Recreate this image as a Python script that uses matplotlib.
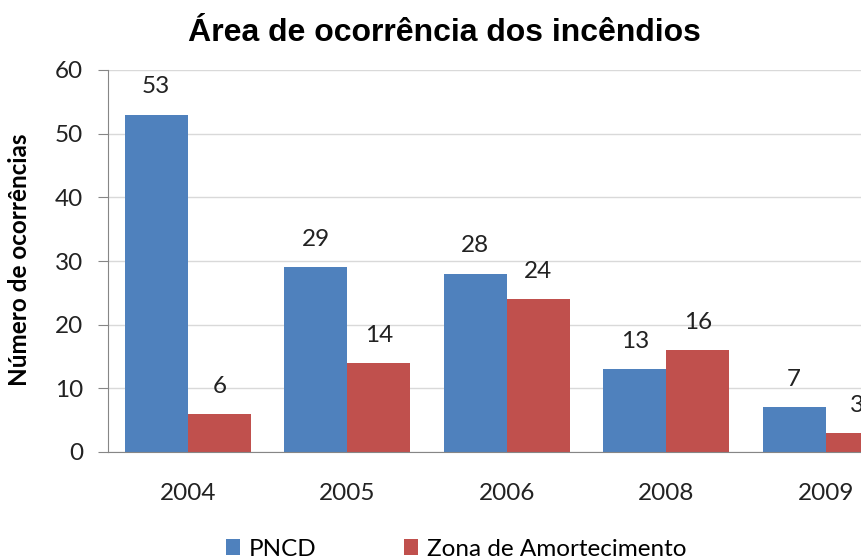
import matplotlib
matplotlib.use("Agg")
import matplotlib.pyplot as plt
import numpy as np

years = ["2004", "2005", "2006", "2008", "2009"]
pncd = [53, 29, 28, 13, 7]
zona = [6, 14, 24, 16, 3]
series_names = ["PNCD", "Zona de Amortecimento"]
yticks = [0, 10, 20, 30, 40, 50, 60]

blue = "#4F81BD"
red = "#C0504D"
font = "Lato"
fs = 17.5

fig = plt.figure(figsize=(8.61, 5.6), dpi=100)
ax = fig.add_axes([108/861, 1-452/560, 797.5/861, (452-70)/560])

x = np.arange(len(years))
w = 0.395
b1 = ax.bar(x - w/2, pncd, w, color=blue, label=series_names[0])
b2 = ax.bar(x + w/2, zona, w, color=red, label=series_names[1])

for rect, v in zip(list(b1) + list(b2), pncd + zona):
    ax.annotate(str(v), (rect.get_x() + rect.get_width()/2, rect.get_height()),
                xytext=(0, 20), textcoords="offset points", ha="center", va="center",
                fontsize=fs, family=font, color="#222222", annotation_clip=False)

ax.set_xlim(-0.5, len(years) - 0.5)
ax.set_ylim(0, 60)
ax.set_yticks(yticks)
ax.set_xticks(x)
ax.set_xticklabels(years)
ax.yaxis.grid(True, color="#D9D9D9", linewidth=1)
ax.set_axisbelow(True)
for s in ["top", "right"]:
    ax.spines[s].set_visible(False)
ax.spines["left"].set_color("#868686")
ax.spines["bottom"].set_color("#868686")
ax.tick_params(axis="y", length=7, color="#868686", labelsize=fs, pad=11)
ax.tick_params(axis="x", length=0, labelsize=fs, pad=22)
for lab in ax.get_xticklabels() + ax.get_yticklabels():
    lab.set_family(font)
    lab.set_color("#222222")

fig.text(20/861, 1-260/560, "Número de ocorrências", rotation=90, ha="center", va="center",
         fontsize=17.5, family=font, fontweight="bold")

fig.text(444/861, 1-33/560, "Área de ocorrência dos incêndios", ha="center", va="center",
         fontsize=23, family="Liberation Sans", fontweight="bold")

leg = fig.legend(handles=[b1, b2], labels=series_names, loc="center", bbox_to_anchor=(456/861, 1-549/560),
                 ncol=2, frameon=False, prop={"family": font, "size": fs}, handlelength=0.6,
                 handleheight=0.6, columnspacing=3.6, handletextpad=0.35)

fig.savefig("out.png", dpi=100)
